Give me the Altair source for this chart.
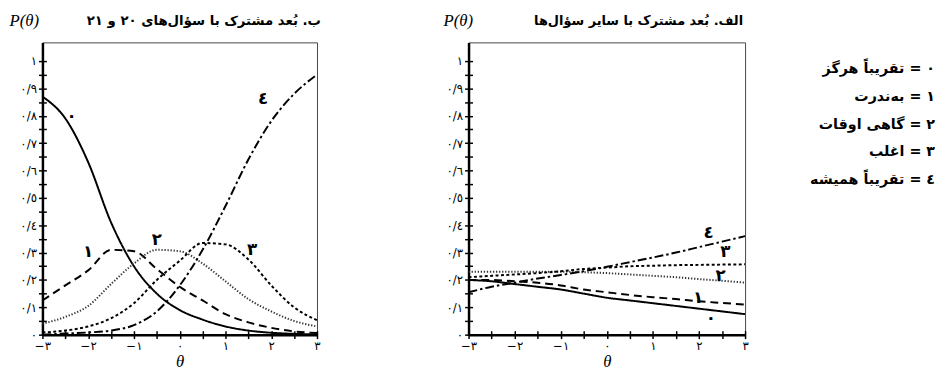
import altair as alt
import pandas as pd

theta = [-3, -2.5, -2, -1.5, -1, -0.5, 0, 0.5, 1, 1.5, 2, 2.5, 3]
categories = ["0", "1", "2", "3", "4"]

# panel "ب" (left)
b_p0 = [0.87, 0.79, 0.63, 0.41, 0.25, 0.15, 0.09, 0.055, 0.03, 0.015, 0.007, 0.003, 0.001]
b_p1 = [0.125, 0.18, 0.235, 0.31, 0.305, 0.24, 0.175, 0.125, 0.075, 0.045, 0.025, 0.012, 0.006]
b_p2 = [0.04, 0.065, 0.105, 0.185, 0.26, 0.31, 0.305, 0.26, 0.195, 0.13, 0.085, 0.05, 0.03]
b_p3 = [0.008, 0.015, 0.03, 0.06, 0.115, 0.20, 0.27, 0.335, 0.33, 0.275, 0.18, 0.10, 0.053]
b_p4 = [0.0, 0.004, 0.008, 0.015, 0.035, 0.085, 0.18, 0.31, 0.47, 0.64, 0.78, 0.88, 0.95]

# panel "الف" (right)
a_p0 = [0.20, 0.195, 0.185, 0.175, 0.165, 0.15, 0.135, 0.125, 0.115, 0.105, 0.095, 0.085, 0.075]
a_p1 = [0.20, 0.20, 0.195, 0.19, 0.18, 0.165, 0.155, 0.145, 0.137, 0.13, 0.122, 0.116, 0.11]
a_p2 = [0.23, 0.23, 0.23, 0.23, 0.23, 0.228, 0.225, 0.22, 0.215, 0.21, 0.203, 0.197, 0.19]
a_p3 = [0.21, 0.215, 0.22, 0.225, 0.232, 0.24, 0.245, 0.25, 0.252, 0.254, 0.255, 0.256, 0.257]
a_p4 = [0.155, 0.175, 0.19, 0.205, 0.218, 0.232, 0.248, 0.265, 0.282, 0.30, 0.32, 0.34, 0.36]

cat_digits = ["\u0660", "\u0661", "\u0662", "\u0663", "\u0664"]

# curve label positions (theta, P)
b_label_theta = [-2.36, -2.0, -0.5, 1.58, 1.82]
b_label_p = [0.80, 0.30, 0.345, 0.31, 0.86]
a_label_theta = [2.26, 1.98, 2.47, 2.57, 2.21]
a_label_p = [0.06, 0.135, 0.215, 0.30, 0.37]

title_b = "ب. بُعد مشترک با سؤال‌های ۲۰ و ۲۱"
title_a = "الف. بُعد مشترک با سایر سؤال‌ها"

legend_texts = [
    "\u0660 = تقریباً هرگز",
    "\u0661 = به‌ندرت",
    "\u0662 = گاهی اوقات",
    "\u0663 = اغلب",
    "\u0664 = تقریباً همیشه",
]

x_tick_labels = ["−٣", "−٢", "−١", "٠", "١", "٢", "٣"]
y_tick_labels = ["٠", "٠/١", "٠/٢", "٠/٣", "٠/٤", "٠/٥", "٠/٦", "٠/٧", "٠/٨", "٠/٩", "١"]

x_major = [-3, -2, -1, 0, 1, 2, 3]
x_minor = [i * 0.5 for i in range(-6, 7)]
y_major = [round(i * 0.1, 2) for i in range(0, 11)]
y_minor = [round(i * 0.05, 2) for i in range(0, 21)]


def arr(lst):
    return "[" + ",".join("'" + s + "'" for s in lst) + "]"


x_label_expr = arr(x_tick_labels) + "[round(datum.value) + 3]"
y_label_expr = arr(y_tick_labels) + "[round(datum.value * 10)]"

W_L, W_R, H = 279, 281, 297

dash_range = [[1, 0], [8, 5], [1.3, 1.8], [3, 2.5], [9, 3, 2.5, 3]]
width_range = [2, 2, 6, 2.8, 2]
color_range = ["#000000", "#000000", "#333333", "#000000", "#000000"]


def build_df(series):
    rows = []
    for cat, vals in zip(categories, series):
        for t, v in zip(theta, vals):
            rows.append({"theta": t, "p": v, "cat": cat})
    return pd.DataFrame(rows)


def panel(series, lab_t, lab_p, title, title_size, title_dx, width, ptitle_x, ptitle_align):
    df = build_df(series)
    lab = pd.DataFrame({"theta": lab_t, "p": lab_p, "txt": cat_digits})
    xs = alt.Scale(domain=[-3, 3], nice=False, zero=False)
    ys = alt.Scale(domain=[0, 1.068], nice=False, zero=False)
    xaxis = alt.Axis(
        orient="bottom", values=x_major, labelExpr=x_label_expr, title="θ", grid=False,
        labelOverlap=False, labelFlush=False,
        domainColor="black", domainWidth=2.5, tickColor="transparent", tickSize=4,
        labelFont="DejaVu Sans", labelFontSize=12, labelColor="black", labelPadding=2,
        titleFont="Liberation Serif", titleFontStyle="italic", titleFontWeight="normal",
        titleFontSize=17, titleColor="black", titlePadding=2,
    )
    yaxis = alt.Axis(
        orient="left", values=y_major, labelExpr=y_label_expr, title="P(θ)", grid=False,
        labelOverlap=False, labelFlush=False,
        domainColor="black", domainWidth=2.5, tickColor="transparent", tickSize=4,
        labelFont="DejaVu Sans", labelFontSize=12, labelColor="black", labelPadding=2,
        titleFont="Liberation Serif", titleFontStyle="italic", titleFontWeight="normal",
        titleFontSize=17, titleColor="black", titleAngle=0,
        titleX=ptitle_x, titleY=-17, titleAlign=ptitle_align, titleBaseline="alphabetic",
    )
    xaxis_minor = alt.Axis(
        orient="bottom", values=x_minor, labels=False, domain=False, grid=False, title=None,
        offset=-4, tickSize=8, tickColor="black", tickWidth=1.5,
    )
    yaxis_minor = alt.Axis(
        orient="left", values=y_minor, labels=False, domain=False, grid=False, title=None,
        offset=-4, tickSize=8, tickColor="black", tickWidth=1.5,
    )
    lines = alt.Chart(df).mark_line(interpolate="monotone").encode(
        x=alt.X("theta:Q", scale=xs, axis=xaxis),
        y=alt.Y("p:Q", scale=ys, axis=yaxis),
        detail="cat:N",
        strokeDash=alt.StrokeDash("cat:N", scale=alt.Scale(domain=categories, range=dash_range), legend=None),
        strokeWidth=alt.StrokeWidth("cat:N", scale=alt.Scale(domain=categories, range=width_range), legend=None),
        color=alt.Color("cat:N", scale=alt.Scale(domain=categories, range=color_range), legend=None),
    )
    texts = alt.Chart(lab).mark_text(
        font="DejaVu Sans", fontSize=17, fontWeight="bold", color="black"
    ).encode(
        x=alt.X("theta:Q", scale=xs, axis=xaxis_minor),
        y=alt.Y("p:Q", scale=ys, axis=yaxis_minor),
        text="txt:N",
    )
    return alt.layer(lines, texts).resolve_axis(x="independent", y="independent").properties(
        width=width, height=H,
        title=alt.TitleParams(
            text=title, anchor="end", font="DejaVu Sans", fontSize=title_size,
            fontWeight="bold", color="black", offset=-16, dx=title_dx,
        ),
    )


left = panel([b_p0, b_p1, b_p2, b_p3, b_p4], b_label_theta, b_label_p, title_b, 13.5, 0, W_L, -4, "right")
right = panel([a_p0, a_p1, a_p2, a_p3, a_p4], a_label_theta, a_label_p, title_a, 13.1, -6, W_R, -11, "center")

leg_df = pd.DataFrame({"idx": list(range(len(legend_texts))), "txt": legend_texts})
legend = alt.Chart(leg_df).mark_text(
    align="right", baseline="middle", font="DejaVu Sans", fontSize=14.5,
    fontWeight="bold", color="black",
).encode(
    y=alt.Y("idx:Q", scale=alt.Scale(domain=[-0.95, 9.53], reverse=True, nice=False, zero=False), axis=None),
    x=alt.value(165),
    text="txt:N",
).properties(width=165, height=H, view=alt.ViewBackground(strokeOpacity=0))

chart = alt.hconcat(
    alt.hconcat(left, right, spacing=122), legend, spacing=23
).properties(
    padding={"left": 0, "top": 0, "right": 0, "bottom": 0}
).configure_view(stroke="#444444", strokeWidth=1)

chart.save("out.html", embed_options={"renderer": "svg", "actions": False})
